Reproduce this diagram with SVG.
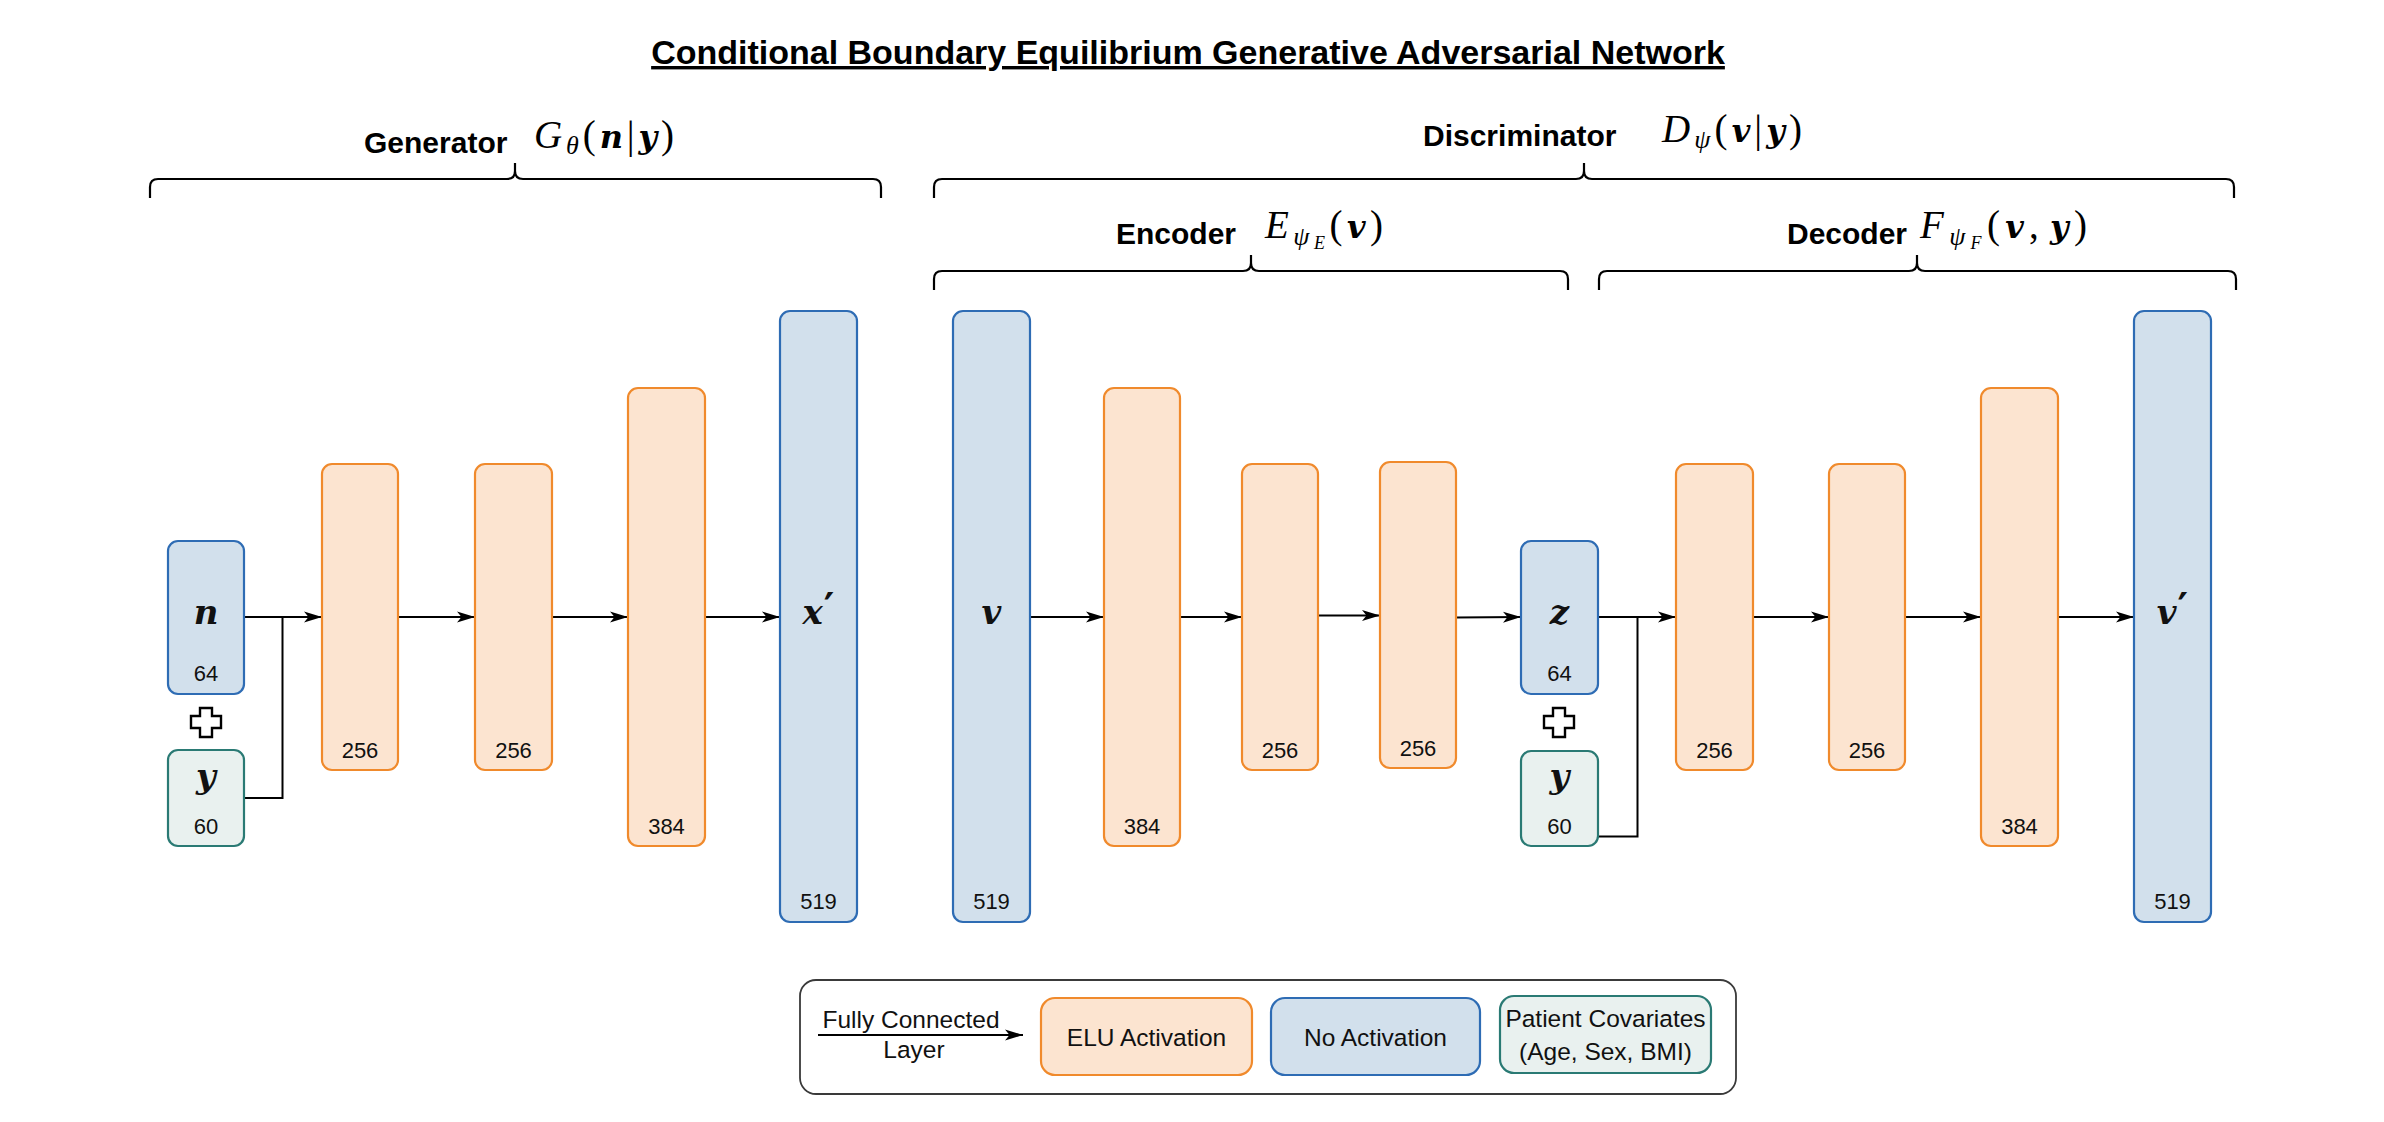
<svg xmlns="http://www.w3.org/2000/svg" width="2384" height="1122" viewBox="0 0 2384 1122">
<style>
.bg{fill:#ffffff}
.elu{fill:#fce4d0;stroke:#f08a2c;stroke-width:2.2}
.noa{fill:#d2e0ec;stroke:#2e6cb4;stroke-width:2.2}
.cov{fill:#e9f1ef;stroke:#2a7a74;stroke-width:2.2}
.num{font-family:"Liberation Sans",Arial,sans-serif;font-size:22px;fill:#111;text-anchor:middle}
.var{font-family:"DejaVu Serif",serif;font-style:italic;font-weight:bold;font-size:34px;fill:#111;text-anchor:middle}
.pr{font-family:"DejaVu Sans",sans-serif;font-style:normal;font-weight:bold;font-size:40px}
.lbl{font-family:"Liberation Sans",Arial,sans-serif;font-weight:bold;font-size:30px;fill:#000}
.title{font-family:"Liberation Sans",Arial,sans-serif;font-weight:bold;font-size:34px;fill:#000;text-anchor:middle;text-decoration:underline}
.m{font-family:"Liberation Serif","Times New Roman",serif;font-size:39px;fill:#000}
.mi{font-style:italic}
.mb{font-family:"DejaVu Serif",serif;font-style:italic;font-weight:bold;font-size:32px}
.sub{font-style:italic;font-size:26px}
.sub2{font-style:italic;font-size:18px}
.brace{fill:none;stroke:#000;stroke-width:2.2}
.edge{fill:none;stroke:#000;stroke-width:2}
.plus{fill:#fff;stroke:#000;stroke-width:2.4}
.leg{font-family:"Liberation Sans",Arial,sans-serif;font-size:24.5px;fill:#111;text-anchor:middle}
</style>
<defs>
<marker id="arr" markerUnits="userSpaceOnUse" markerWidth="18" markerHeight="12" refX="18" refY="6" orient="auto" viewBox="0 0 18 12">
<path d="M0,0.5 L18,6 L0,11.5 L4.5,6 Z" fill="#000"/>
</marker>
</defs>
<rect class="bg" x="0" y="0" width="2384" height="1122"/>

<text class="title" x="1188" y="64">Conditional Boundary Equilibrium Generative Adversarial Network</text>

<g id="labels">
<text class="lbl" x="364" y="153">Generator</text>
<text class="m" x="534" y="148" textLength="140" lengthAdjust="spacing"><tspan class="mi">G</tspan><tspan class="sub" dy="6">θ</tspan><tspan dy="-6">(</tspan><tspan class="mb">n</tspan><tspan>|</tspan><tspan class="mb">y</tspan><tspan>)</tspan></text>
<text class="lbl" x="1423" y="146">Discriminator</text>
<text class="m" x="1662" y="142" textLength="140" lengthAdjust="spacing"><tspan class="mi">D</tspan><tspan class="sub" dy="6">ψ</tspan><tspan dy="-6">(</tspan><tspan class="mb">v</tspan><tspan>|</tspan><tspan class="mb">y</tspan><tspan>)</tspan></text>
<text class="lbl" x="1116" y="244">Encoder</text>
<text class="m" x="1265" y="238" textLength="118" lengthAdjust="spacing"><tspan class="mi">E</tspan><tspan class="sub" dy="7">ψ</tspan><tspan class="sub2" dy="4">E</tspan><tspan dy="-11">(</tspan><tspan class="mb">v</tspan><tspan>)</tspan></text>
<text class="lbl" x="1787" y="244">Decoder</text>
<text class="m" x="1920" y="238" textLength="167" lengthAdjust="spacing"><tspan class="mi">F</tspan><tspan class="sub" dy="7">ψ</tspan><tspan class="sub2" dy="4">F</tspan><tspan dy="-11">(</tspan><tspan class="mb">v</tspan><tspan>,</tspan><tspan class="mb" dx="6">y</tspan><tspan>)</tspan></text>
</g>

<g id="braces">
<path class="brace" d="M150,198 V187 Q150,179 158,179 H507 Q515,179 515,171 V163 M515,163 V171 Q515,179 523,179 H873 Q881,179 881,187 V198"/>
<path class="brace" d="M934,198 V187 Q934,179 942,179 H1576 Q1584,179 1584,171 V163 M1584,163 V171 Q1584,179 1592,179 H2226 Q2234,179 2234,187 V198"/>
<path class="brace" d="M934,290 V279 Q934,271 942,271 H1243 Q1251,271 1251,263 V255 M1251,255 V263 Q1251,271 1259,271 H1560 Q1568,271 1568,279 V290"/>
<path class="brace" d="M1599,290 V279 Q1599,271 1607,271 H1909 Q1917,271 1917,263 V255 M1917,255 V263 Q1917,271 1925,271 H2228 Q2236,271 2236,279 V290"/>
</g>

<g id="connectors">
<path class="edge" d="M244,617 H322" marker-end="url(#arr)"/>
<path class="edge" d="M244,798 H282.5 V617"/>
<path class="edge" d="M398,617 H475" marker-end="url(#arr)"/>
<path class="edge" d="M552,617 H628" marker-end="url(#arr)"/>
<path class="edge" d="M705,617 H780" marker-end="url(#arr)"/>
<path class="edge" d="M1030,617 H1104" marker-end="url(#arr)"/>
<path class="edge" d="M1180,617 H1242" marker-end="url(#arr)"/>
<path class="edge" d="M1318,615.5 H1380" marker-end="url(#arr)"/>
<path class="edge" d="M1456,617.5 L1521,617" marker-end="url(#arr)"/>
<path class="edge" d="M1598,617 H1676" marker-end="url(#arr)"/>
<path class="edge" d="M1598,798 V836.5 H1637.5 V617"/>
<path class="edge" d="M1753,617 H1829" marker-end="url(#arr)"/>
<path class="edge" d="M1905,617 H1981" marker-end="url(#arr)"/>
<path class="edge" d="M2058,617 H2134" marker-end="url(#arr)"/>
</g>

<g id="gen-n"><rect class="noa" x="168" y="541" width="76" height="153" rx="10"/><text class="var" x="206" y="624">n</text><text class="num" x="206" y="681">64</text></g>
<g id="gen-plus"><path class="plus" d="M200,708 H212 V716 H221 V728 H212 V737 H200 V728 H191 V716 H200 Z"/></g>
<g id="gen-y"><rect class="cov" x="168" y="750" width="76" height="96" rx="10"/><text class="var" x="206" y="788">y</text><text class="num" x="206" y="834">60</text></g>
<g id="gen-h1"><rect class="elu" x="322" y="464" width="76" height="306" rx="10"/><text class="num" x="360" y="758">256</text></g>
<g id="gen-h2"><rect class="elu" x="475" y="464" width="77" height="306" rx="10"/><text class="num" x="513.5" y="758">256</text></g>
<g id="gen-h3"><rect class="elu" x="628" y="388" width="77" height="458" rx="10"/><text class="num" x="666.5" y="834">384</text></g>
<g id="gen-x"><rect class="noa" x="780" y="311" width="77" height="611" rx="10"/><text class="var" x="818.5" y="624">x<tspan class="pr" dx="1" dy="-2">′</tspan></text><text class="num" x="818.5" y="909">519</text></g>

<g id="enc-v"><rect class="noa" x="953" y="311" width="77" height="611" rx="10"/><text class="var" x="991.5" y="624">v</text><text class="num" x="991.5" y="909">519</text></g>
<g id="enc-h1"><rect class="elu" x="1104" y="388" width="76" height="458" rx="10"/><text class="num" x="1142" y="834">384</text></g>
<g id="enc-h2"><rect class="elu" x="1242" y="464" width="76" height="306" rx="10"/><text class="num" x="1280" y="758">256</text></g>
<g id="enc-h3"><rect class="elu" x="1380" y="462" width="76" height="306" rx="10"/><text class="num" x="1418" y="756">256</text></g>
<g id="enc-z"><rect class="noa" x="1521" y="541" width="77" height="153" rx="10"/><text class="var" x="1559.5" y="624">z</text><text class="num" x="1559.5" y="681">64</text></g>
<g id="dis-plus"><path class="plus" d="M1553,708 H1565 V716 H1574 V728 H1565 V737 H1553 V728 H1544 V716 H1553 Z"/></g>
<g id="dis-y"><rect class="cov" x="1521" y="751" width="77" height="95" rx="10"/><text class="var" x="1559.5" y="788">y</text><text class="num" x="1559.5" y="834">60</text></g>
<g id="dec-h1"><rect class="elu" x="1676" y="464" width="77" height="306" rx="10"/><text class="num" x="1714.5" y="758">256</text></g>
<g id="dec-h2"><rect class="elu" x="1829" y="464" width="76" height="306" rx="10"/><text class="num" x="1867" y="758">256</text></g>
<g id="dec-h3"><rect class="elu" x="1981" y="388" width="77" height="458" rx="10"/><text class="num" x="2019.5" y="834">384</text></g>
<g id="dec-v"><rect class="noa" x="2134" y="311" width="77" height="611" rx="10"/><text class="var" x="2172.5" y="624">v<tspan class="pr" dx="1" dy="-2">′</tspan></text><text class="num" x="2172.5" y="909">519</text></g>

<g id="legend">
<rect x="800" y="980" width="936" height="114" rx="16" fill="#fff" stroke="#3a3a3a" stroke-width="1.8"/>
<text class="leg" x="911" y="1028">Fully Connected</text>
<path class="edge" d="M818,1035 H1023" marker-end="url(#arr)"/>
<text class="leg" x="914" y="1058">Layer</text>
<rect class="elu" x="1041" y="998" width="211" height="77" rx="14"/>
<text class="leg" x="1146.5" y="1046">ELU Activation</text>
<rect class="noa" x="1271" y="998" width="209" height="77" rx="14"/>
<text class="leg" x="1375.5" y="1046">No Activation</text>
<rect class="cov" x="1500" y="996" width="211" height="77" rx="14"/>
<text class="leg" x="1605.5" y="1027">Patient Covariates</text>
<text class="leg" x="1605.5" y="1060">(Age, Sex, BMI)</text>
</g>
</svg>
